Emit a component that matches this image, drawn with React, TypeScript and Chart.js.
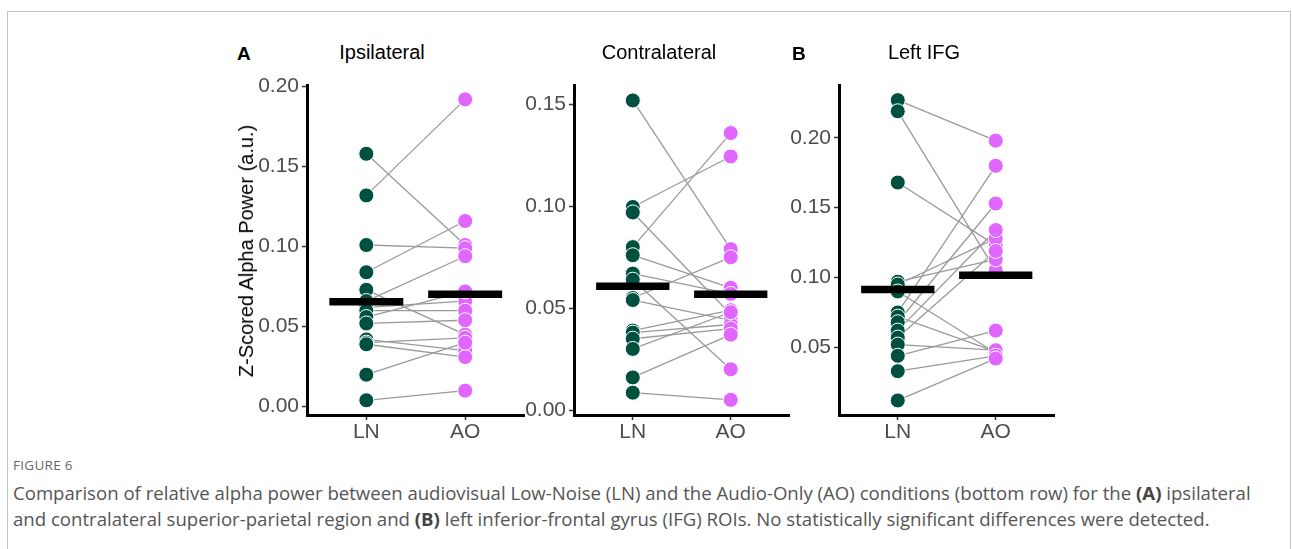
import React, { useEffect, useRef } from "react";
import { Chart, registerables } from "chart.js";
Chart.register(...registerables);

// ---------- data ----------
const conditions = ["LN", "AO"];
const panelTitles = ["Ipsilateral", "Contralateral", "Left IFG"];

const ipsiLN = [0.158, 0.132, 0.101, 0.084, 0.073, 0.066, 0.062, 0.06, 0.056, 0.052, 0.042, 0.04, 0.039, 0.02, 0.004];
const ipsiAO = [0.101, 0.192, 0.099, 0.116, 0.045, 0.094, 0.066, 0.06, 0.072, 0.054, 0.035, 0.043, 0.031, 0.04, 0.01];

const contraLN = [0.152, 0.0997, 0.097, 0.08, 0.076, 0.067, 0.064, 0.055, 0.054, 0.039, 0.038, 0.035, 0.03, 0.016, 0.0085];
const contraAO = [0.079, 0.1245, 0.047, 0.136, 0.06, 0.057, 0.02, 0.075, 0.044, 0.049, 0.042, 0.04, 0.048, 0.037, 0.005];

const ifgLN = [0.227, 0.219, 0.168, 0.097, 0.095, 0.09, 0.075, 0.072, 0.068, 0.062, 0.057, 0.052, 0.044, 0.033, 0.012];
const ifgAO = [0.198, 0.105, 0.123, 0.113, 0.128, 0.046, 0.18, 0.047, 0.153, 0.134, 0.119, 0.048, 0.062, 0.044, 0.042];

const meanLN = [0.0655, 0.0608, 0.0914];
const meanAO = [0.0703, 0.0569, 0.1016];

const ticksIpsi = [0, 0.05, 0.1, 0.15, 0.2];
const ticksContra = [0, 0.05, 0.1, 0.15];
const ticksIfg = [0.05, 0.1, 0.15, 0.2];

const rangeIpsi = [-0.0052, 0.2006];
const rangeContra = [-0.00245, 0.1593];
const rangeIfg = [0.0016, 0.2374];

// ---------- styling ----------
const LN_COLOR = "#00503F";
const AO_COLOR = "#E066FF";
const FONT = "'Liberation Sans', Arial, sans-serif";
const Y_AXIS_W = 70;
const X_AXIS_H = 45;
const PAD_TOP = 15;
const PLOT_TOP = 85;
const PLOT_H = 330;

type PanelProps = {
  ln: number[];
  ao: number[];
  mLN: number;
  mAO: number;
  yTicks: number[];
  range: number[];
  axisX: number;
  plotW: number;
};

function Panel({ ln, ao, mLN, mAO, yTicks, range, axisX, plotW }: PanelProps) {
  const ref = useRef<HTMLCanvasElement | null>(null);
  const width = Y_AXIS_W + plotW + 6;
  const height = PAD_TOP + PLOT_H + X_AXIS_H;
  useEffect(() => {
    if (!ref.current) return;
    const half = 0.374;
    const datasets: any[] = [];
    datasets.push({
      data: [{ x: 1 - half, y: mLN }, { x: 1 + half, y: mLN }],
      showLine: true, borderColor: "#000", borderWidth: 7.5, pointRadius: 0, borderCapStyle: "butt", order: 0,
    });
    datasets.push({
      data: [{ x: 2 - half, y: mAO }, { x: 2 + half, y: mAO }],
      showLine: true, borderColor: "#000", borderWidth: 7.5, pointRadius: 0, borderCapStyle: "butt", order: 0,
    });
    datasets.push({
      data: ln.map((v) => ({ x: 1, y: v })),
      backgroundColor: LN_COLOR, borderColor: "#fff", borderWidth: 1, pointRadius: 7.5, order: 1,
    });
    datasets.push({
      data: ao.map((v) => ({ x: 2, y: v })),
      backgroundColor: AO_COLOR, borderColor: "#fff", borderWidth: 1, pointRadius: 7.5, order: 1,
    });
    ln.forEach((v, i) => {
      datasets.push({
        data: [{ x: 1, y: v }, { x: 2, y: ao[i] }],
        showLine: true, borderColor: "#9a9a9a", borderWidth: 1.3, pointRadius: 0, order: 2,
      });
    });
    const tickFont = { family: FONT, size: 21 };
    const grid = { drawOnChartArea: false, drawTicks: true, tickLength: 5, tickColor: "#333", tickWidth: 1.5 };
    const border = { display: true, color: "#000", width: 3 };
    const chart = new Chart(ref.current, {
      type: "scatter",
      data: { datasets },
      options: {
        animation: false,
        responsive: false,
        maintainAspectRatio: false,
        devicePixelRatio: 1,
        layout: { padding: { top: PAD_TOP, right: 6, left: 0, bottom: 0 } },
        plugins: { legend: { display: false }, tooltip: { enabled: false }, title: { display: false } },
        scales: {
          x: {
            type: "linear",
            min: 0.4,
            max: 2.6,
            afterFit: (s: any) => { s.height = X_AXIS_H; },
            afterBuildTicks: (s: any) => { s.ticks = [{ value: 1 }, { value: 2 }]; },
            ticks: {
              callback: (v: any) => conditions[Math.round(Number(v)) - 1],
              font: tickFont, color: "#4D4D4D", padding: 0, autoSkip: false, maxRotation: 0,
            },
            grid, border,
          },
          y: {
            type: "linear",
            min: range[0],
            max: range[1],
            afterFit: (s: any) => { s.width = Y_AXIS_W; },
            afterBuildTicks: (s: any) => { s.ticks = yTicks.map((v) => ({ value: v })); },
            ticks: {
              callback: (v: any) => Number(v).toFixed(2),
              font: tickFont, color: "#4D4D4D", padding: 3, autoSkip: false,
            },
            grid, border,
          },
        },
      } as any,
    });
    return () => chart.destroy();
  }, []);
  return (
    <canvas
      ref={ref}
      width={width}
      height={height}
      style={{ position: "absolute", left: axisX - Y_AXIS_W, top: PLOT_TOP - PAD_TOP, width, height }}
    />
  );
}

const textBase: React.CSSProperties = { position: "absolute", whiteSpace: "nowrap", fontFamily: FONT, color: "#000", lineHeight: 1 };
const capFont = "'Open Sans', sans-serif";

export default function App() {
  return (
    <div style={{ position: "absolute", left: 0, top: 0, width: 1292, height: 549, background: "#fff", overflow: "hidden" }}>
      <div style={{ position: "absolute", left: 7, top: 11, width: 1282, height: 600, borderTop: "1px solid #c4c4c4", borderLeft: "1px solid #c4c4c4", borderRight: "1px solid #c4c4c4" }} />

      <Panel ln={ipsiLN} ao={ipsiAO} mLN={meanLN[0]} mAO={meanAO[0]} yTicks={ticksIpsi} range={rangeIpsi} axisX={307} plotW={220} />
      <Panel ln={contraLN} ao={contraAO} mLN={meanLN[1]} mAO={meanAO[1]} yTicks={ticksContra} range={rangeContra} axisX={574} plotW={218} />
      <Panel ln={ifgLN} ao={ifgAO} mLN={meanLN[2]} mAO={meanAO[2]} yTicks={ticksIfg} range={rangeIfg} axisX={839} plotW={218} />

      <div style={{ ...textBase, left: 237, top: 44, fontSize: 19, fontWeight: "bold" }}>A</div>
      <div style={{ ...textBase, left: 792, top: 44, fontSize: 19, fontWeight: "bold" }}>B</div>
      <div style={{ ...textBase, left: 382, top: 42, fontSize: 20, transform: "translateX(-50%)" }}>{panelTitles[0]}</div>
      <div style={{ ...textBase, left: 659, top: 42, fontSize: 20, transform: "translateX(-50%)" }}>{panelTitles[1]}</div>
      <div style={{ ...textBase, left: 924, top: 42, fontSize: 20, transform: "translateX(-50%)" }}>{panelTitles[2]}</div>
      <div style={{ ...textBase, left: 246, top: 250.5, fontSize: 20, transform: "translate(-50%, -50%) rotate(-90deg)" }}>
        Z-Scored Alpha Power (a.u.)
      </div>

      <div style={{ position: "absolute", left: 13, top: 459, fontFamily: capFont, fontSize: 13.5, color: "#666", whiteSpace: "nowrap", lineHeight: 1, letterSpacing: 0.3 }}>
        FIGURE 6
      </div>
      <div style={{ position: "absolute", left: 13, top: 480, fontFamily: capFont, fontSize: 18.6, color: "#555", whiteSpace: "nowrap", lineHeight: "26px" }}>
        Comparison of relative alpha power between audiovisual Low-Noise (LN) and the Audio-Only (AO) conditions (bottom row) for the <b style={{ color: "#444" }}>(A)</b> ipsilateral
        <br />
        and contralateral superior-parietal region and <b style={{ color: "#444" }}>(B)</b> left inferior-frontal gyrus (IFG) ROIs. No statistically significant differences were detected.
      </div>
    </div>
  );
}
